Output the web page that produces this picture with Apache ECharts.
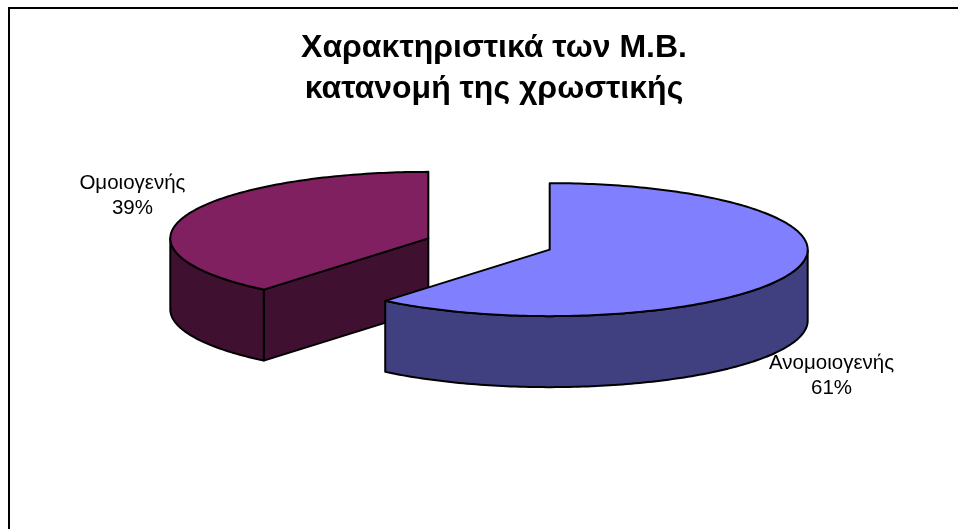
<!DOCTYPE html>
<html>
<head>
<meta charset="utf-8">
<script src="https://cdn.jsdelivr.net/npm/echarts@6/dist/echarts.min.js"></script>
<style>
html,body{margin:0;padding:0;background:#fff;}
#chart{width:958px;height:529px;}
</style>
</head>
<body>
<div id="chart"></div>
<script>
// ---- data ----
const categories = ['Ανομοιογενής', 'Ομοιογενής'];
const values = [61, 39];
const titleLines = ['Χαρακτηριστικά των Μ.Β.', 'κατανομή της χρωστικής'];

// ---- style / layout ----
const topColors = ['#8080FF', '#802060'];
const sideColors = ['#404080', '#401030'];
const L = { cx: 489, cy: 244, rx: 258, ry: 66.5, depth: 71, explode: 0.25, startAngle: 90,
            labelKx: 1.19, labelKy: 1.9, labelDepthK: 1.17, labelDx: -7 };

const total = values.reduce((a, b) => a + b, 0);
const rad = d => d * Math.PI / 180;

function geom(i) {
  let before = 0;
  for (let k = 0; k < i; k++) before += values[k];
  const after = before + values[i];
  const a0 = L.startAngle - 360 * before / total; // CCW end
  const a1 = L.startAngle - 360 * after / total;  // CCW start
  const mid = (a0 + a1) / 2;
  const ox = L.cx + L.explode * L.rx * Math.cos(rad(mid));
  const oy = L.cy - L.explode * L.ry * Math.sin(rad(mid));
  return { a0, a1, mid, ox, oy };
}
const geoms = values.map((v, i) => geom(i));
const order = geoms.map((g, i) => i).sort((p, q) => geoms[p].oy - geoms[q].oy);
const rank = [];
order.forEach((idx, r) => { rank[idx] = r; });

function renderItem(params, api) {
  const i = params.dataIndex;
  const g = geoms[i];
  const base = rank[i] * 10;
  const pt = (t, d) => [g.ox + L.rx * Math.cos(rad(t)), g.oy - L.ry * Math.sin(rad(t)) + (d || 0)];
  const O = [g.ox, g.oy], Ob = [g.ox, g.oy + L.depth];
  const stroke = { stroke: '#000', lineWidth: 2, lineJoin: 'round' };
  const children = [];
  // radial walls
  const walls = [];
  if (Math.cos(rad(g.a1)) > 1e-6) walls.push(g.a1);
  if (Math.cos(rad(g.a0)) < -1e-6) walls.push(g.a0);
  walls.forEach(a => {
    children.push({ type: 'polygon', z2: base + 1,
      shape: { points: [O, pt(a), pt(a, L.depth), Ob] },
      style: Object.assign({ fill: sideColors[i] }, stroke) });
  });
  // curved outer wall (front-facing parts)
  const ts = [];
  for (let t = g.a1; t < g.a0; t += 1) ts.push(t);
  ts.push(g.a0);
  let run = [];
  const flush = () => {
    if (run.length > 1) {
      const pts = run.map(t => pt(t)).concat(run.slice().reverse().map(t => pt(t, L.depth)));
      children.push({ type: 'polygon', z2: base + 2, shape: { points: pts },
        style: Object.assign({ fill: sideColors[i] }, stroke) });
    }
    run = [];
  };
  ts.forEach(t => { if (Math.sin(rad(t)) <= 1e-9) run.push(t); else flush(); });
  flush();
  // top face
  const topPts = [O].concat(ts.map(t => pt(t)));
  children.push({ type: 'polygon', z2: base + 3, shape: { points: topPts },
    style: Object.assign({ fill: topColors[i] }, stroke) });
  // label
  const s = Math.sin(rad(g.mid));
  const lx = g.ox + L.labelKx * L.rx * Math.cos(rad(g.mid)) + L.labelDx;
  const ly = g.oy - L.labelKy * L.ry * s + (s < 0 ? L.labelDepthK * L.depth : 0);
  const pct = Math.round(api.value(0) / total * 100);
  children.push({ type: 'text', z2: 100,
    style: { text: categories[i] + '\n' + pct + '%', x: lx, y: ly, fill: '#000',
      fontSize: 20.5, fontFamily: 'Liberation Sans, Arial, sans-serif',
      align: 'center', verticalAlign: 'middle', lineHeight: 25 } });
  return { type: 'group', children };
}

const chart = echarts.init(document.getElementById('chart'), null, { renderer: 'canvas' });
chart.setOption({
  backgroundColor: '#fff',
  animation: false,
  title: {
    text: titleLines.join('\n'),
    left: 489, top: 23, textAlign: 'center',
    textStyle: { fontSize: 32, fontWeight: 'bold', fontFamily: 'Liberation Sans, Arial, sans-serif',
      color: '#000', lineHeight: 41 }
  },
  graphic: [{
    type: 'rect', z: -1, silent: true,
    shape: { x: 9, y: 8, width: 1100, height: 700 },
    style: { fill: 'none', stroke: '#000', lineWidth: 2 }
  }],
  series: [{
    type: 'custom',
    coordinateSystem: 'none',
    renderItem: renderItem,
    data: values.map((v, i) => ({ name: categories[i], value: [v] }))
  }]
});
</script>
</body>
</html>
